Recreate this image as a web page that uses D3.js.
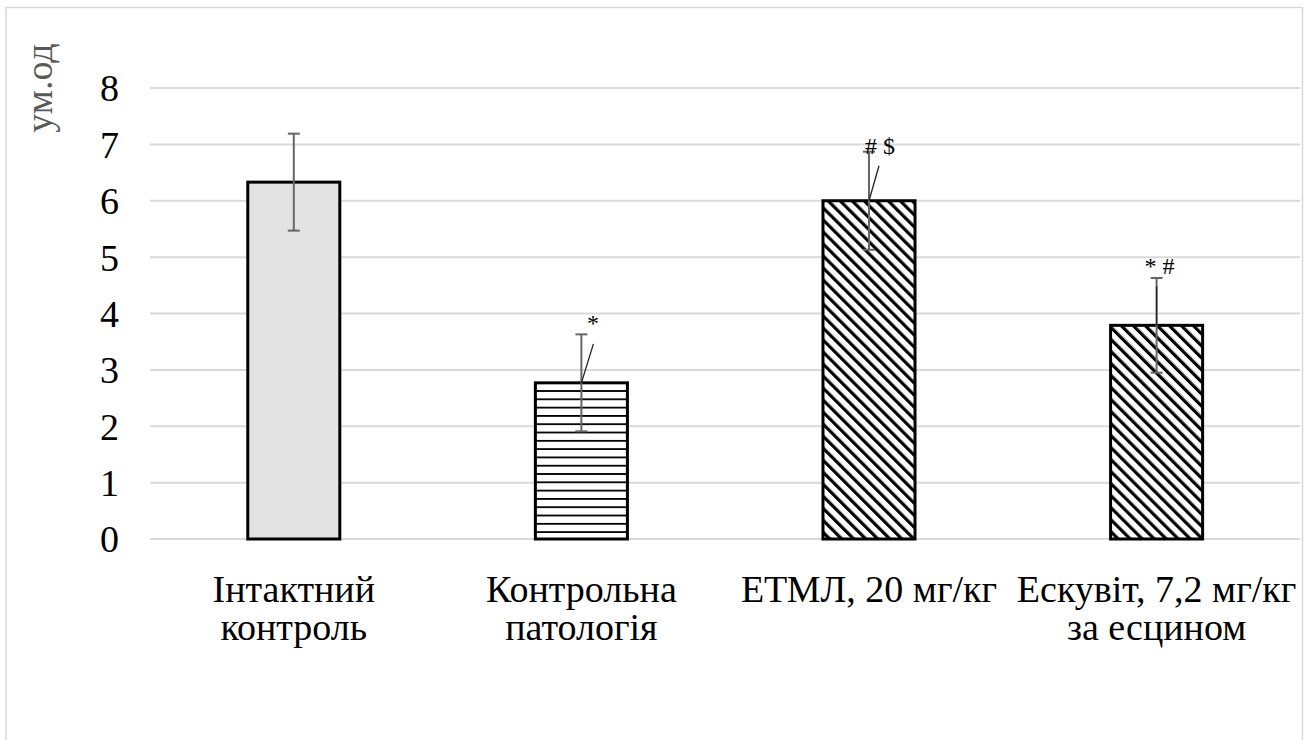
<!DOCTYPE html>
<html>
<head>
<meta charset="utf-8">
<script src="https://cdn.jsdelivr.net/npm/d3@7"></script>
<style>
  body { margin: 0; background: #fff; }
  text { font-family: "Liberation Serif", "Times New Roman", serif; }
</style>
</head>
<body>
<div id="cont"></div>
<script>
// Data
var categories = ["Інтактний\nконтроль", "Контрольна\nпатологія", "ЕТМЛ, 20 мг/кг", "Ескувіт, 7,2 мг/кг\nза есцином"];
var values = [6.33, 2.77, 6.00, 3.79];
var errors = [0.86, 0.86, 0.87, 0.84];
var marks = ["", "*", "# $", "* #"];
var yTicks = [0, 1, 2, 3, 4, 5, 6, 7, 8];
var yLabel = "ум.од";

// Sizes
var width = 1306, height = 740;
var plotLeft = 150, plotRight = 1300.4, plotTop = 88, plotBottom = 539;

var svg = d3.select("#cont").append("svg")
    .attr("width", width)
    .attr("height", height);

// patterns
var defs = svg.append("defs");
var hp = defs.append("pattern")
    .attr("id", "horiz")
    .attr("patternUnits", "userSpaceOnUse")
    .attr("width", 8).attr("height", 8.3);
hp.append("rect").attr("width", 8).attr("height", 8.3).attr("fill", "#fff");
hp.append("rect").attr("y", 0).attr("width", 8).attr("height", 1.8).attr("fill", "#000");

var dp = defs.append("pattern")
    .attr("id", "diag")
    .attr("patternUnits", "userSpaceOnUse")
    .attr("width", 8.5).attr("height", 8.5)
    .attr("patternTransform", "rotate(-45)");
dp.append("rect").attr("width", 8.5).attr("height", 8.5).attr("fill", "#fff");
dp.append("rect").attr("x", 0).attr("width", 3.2).attr("height", 8.5).attr("fill", "#000");

var fills = ["#e3e3e3", "url(#horiz)", "url(#diag)", "url(#diag)"];

// outer frame
svg.append("rect")
    .attr("x", 6).attr("y", 7.5)
    .attr("width", 1296.5).attr("height", 760)
    .attr("fill", "none")
    .attr("stroke", "#d9d9d9")
    .attr("stroke-width", 1.5);

var x = d3.scaleBand()
    .domain(categories)
    .range([plotLeft, plotRight])
    .paddingInner(0.68)
    .paddingOuter(0.34);

var y = d3.scaleLinear()
    .domain([0, 8])
    .range([plotBottom, plotTop]);

// gridlines
svg.append("g")
    .selectAll("line")
    .data(yTicks)
    .join("line")
    .attr("x1", plotLeft).attr("x2", plotRight)
    .attr("y1", function(d) { return y(d); })
    .attr("y2", function(d) { return y(d); })
    .attr("stroke", "#d9d9d9")
    .attr("stroke-width", 2);

// y axis labels
var yAxis = svg.append("g")
    .attr("transform", "translate(119,0)")
    .call(d3.axisLeft(y).tickValues(yTicks).tickSize(0).tickPadding(0));
yAxis.select(".domain").remove();
yAxis.selectAll("text")
    .attr("font-family", "Liberation Serif")
    .attr("font-size", 38)
    .attr("fill", "#000")
    .attr("dy", "0.34em");

svg.append("text")
    .attr("transform", "translate(52,88) rotate(-90)")
    .attr("text-anchor", "middle")
    .attr("font-size", 38)
    .attr("fill", "#595959")
    .text(yLabel);

// bars
var bars = svg.append("g");
bars.selectAll("rect")
    .data(values)
    .join("rect")
    .attr("x", function(d, i) { return x(categories[i]); })
    .attr("y", function(d) { return y(d); })
    .attr("width", x.bandwidth())
    .attr("height", function(d) { return y(0) - y(d); })
    .attr("fill", function(d, i) { return fills[i]; })
    .attr("stroke", "#000")
    .attr("stroke-width", 3);

function cx(i) { return x(categories[i]) + x.bandwidth() / 2; }

// error bars
var eb = svg.append("g")
    .attr("stroke", "#666")
    .attr("stroke-width", 2);
values.forEach(function(v, i) {
    eb.append("line")
        .attr("x1", cx(i)).attr("x2", cx(i))
        .attr("y1", y(v + errors[i])).attr("y2", y(v - errors[i]));
    [v + errors[i], v - errors[i]].forEach(function(e) {
        eb.append("line")
            .attr("x1", cx(i) - 6).attr("x2", cx(i) + 6)
            .attr("y1", y(e)).attr("y2", y(e));
    });
});

// significance marks with leader lines
var ann = svg.append("g");
var leaders = [null, [0, 12, 39], [0, 10, 35], [0, 0, 39]]; // [dx0, dx1, rise]
var markPos = [null, [11.5, 51.5], [11, 47], [3, 51]];      // [dx, baseline above bar]
values.forEach(function(v, i) {
    if (!marks[i]) return;
    var l = leaders[i];
    ann.append("line")
        .attr("x1", cx(i) + l[0]).attr("y1", y(v))
        .attr("x2", cx(i) + l[1]).attr("y2", y(v) - l[2])
        .attr("stroke", "#222")
        .attr("stroke-width", 1.3);
    ann.append("text")
        .attr("x", cx(i) + markPos[i][0])
        .attr("y", y(v) - markPos[i][1])
        .attr("text-anchor", "middle")
        .attr("font-family", "Liberation Sans, Arial, sans-serif")
        .attr("font-size", 24)
        .attr("fill", "#000")
        .text(marks[i]);
});

// category labels
var xl = svg.append("g");
categories.forEach(function(c, i) {
    var t = xl.append("text")
        .attr("x", cx(i))
        .attr("y", 602)
        .attr("text-anchor", "middle")
        .attr("font-size", 38)
        .attr("fill", "#000");
    c.split("\n").forEach(function(line, k) {
        t.append("tspan")
            .attr("x", cx(i))
            .attr("dy", k === 0 ? 0 : 38)
            .text(line);
    });
});
</script>
</body>
</html>
